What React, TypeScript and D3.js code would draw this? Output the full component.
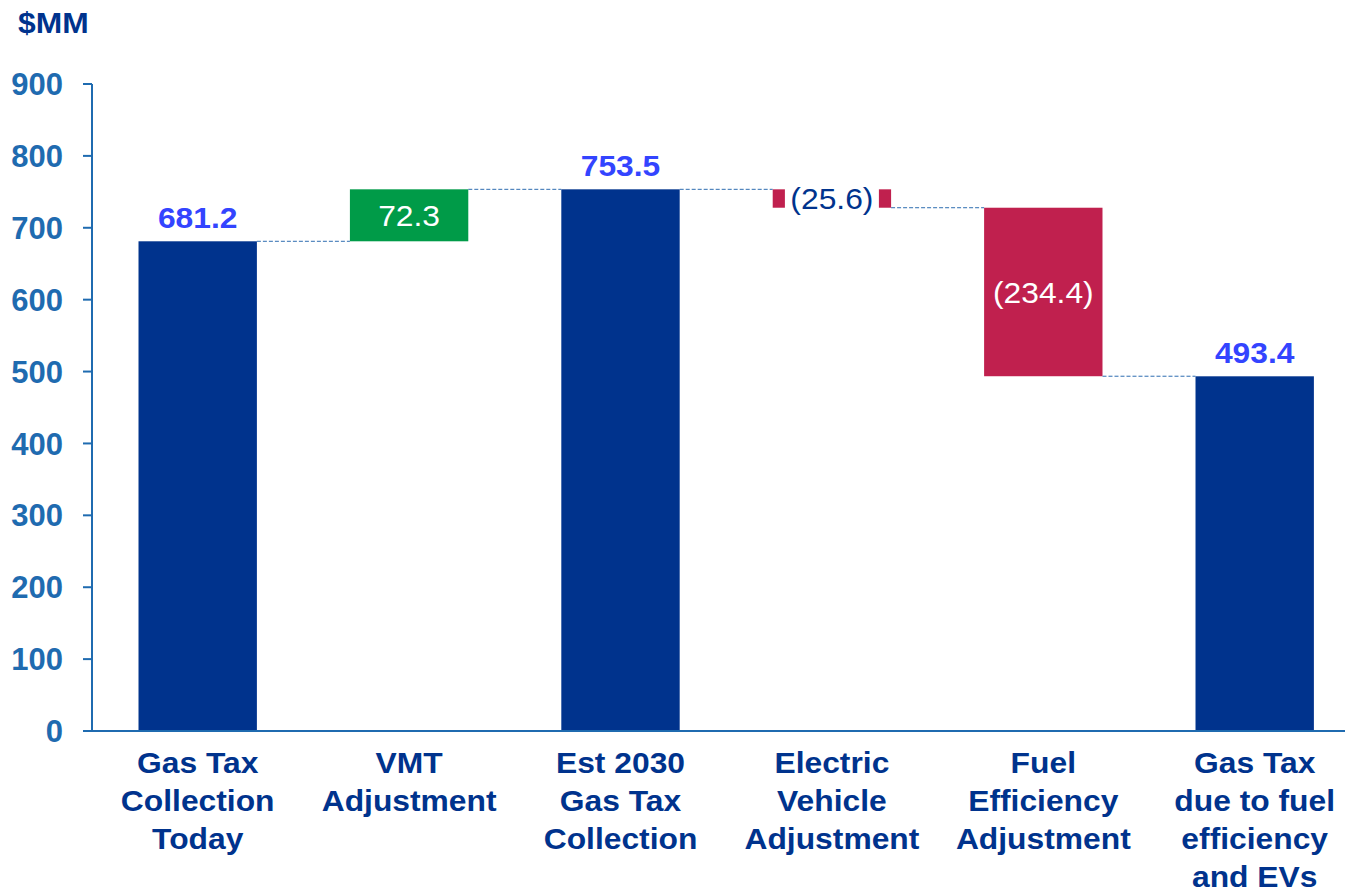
import React, { useEffect, useRef } from 'react';
import * as d3 from 'd3';

const categories = [
  ['Gas Tax', 'Collection', 'Today'],
  ['VMT', 'Adjustment'],
  ['Est 2030', 'Gas Tax', 'Collection'],
  ['Electric', 'Vehicle', 'Adjustment'],
  ['Fuel', 'Efficiency', 'Adjustment'],
  ['Gas Tax', 'due to fuel', 'efficiency', 'and EVs'],
];
const values = [681.2, 72.3, 753.5, -25.6, -234.4, 493.4];
const kinds = ['total', 'delta', 'total', 'delta', 'delta', 'total'];
const labels = ['681.2', '72.3', '753.5', '(25.6)', '(234.4)', '493.4'];
const yTicks = [0, 100, 200, 300, 400, 500, 600, 700, 800, 900];

const W = 1345;
const H = 890;
const font = '"Liberation Sans", Arial, sans-serif';
const navy = '#00338D';
const axisBlue = '#1F6BB0';
const labelBlue = '#3344FF';
const stretch = 1.06; // reference text is a bit wider than plain Arial

export default function App() {
  const ref = useRef<SVGSVGElement>(null);

  useEffect(() => {
    const svg = d3.select(ref.current);
    svg.selectAll('*').remove();

    const x = d3.scaleBand<number>()
      .domain(values.map((_, i) => i))
      .range([92, 92 + 211.4 * 6])
      .paddingInner(0.44)
      .paddingOuter(0.22);
    const y = d3.scaleLinear().domain([0, 900]).range([731, 84]);

    // wide text helper: anchored at (tx, ty), stretched horizontally
    const wideText = (parent, tx, ty, anchor = 'middle') =>
      parent.append('text')
        .attr('transform', `translate(${tx},${ty}) scale(${stretch},1)`)
        .attr('text-anchor', anchor)
        .attr('font-family', font)
        .attr('font-size', 30);

    // running totals for the waterfall
    let run = 0;
    const steps = values.map((v, i) => {
      let lo, hi, end;
      if (kinds[i] === 'total') {
        lo = 0; hi = v; end = v;
      } else {
        end = run + v;
        lo = Math.min(run, end); hi = Math.max(run, end);
      }
      const s = { i, lo, hi, end, v };
      run = end;
      return s;
    });

    // connectors
    const g = svg.append('g');
    steps.slice(0, -1).forEach((s) => {
      g.append('line')
        .attr('x1', x(s.i)! + x.bandwidth())
        .attr('x2', x(s.i + 1)!)
        .attr('y1', y(s.end))
        .attr('y2', y(s.end))
        .attr('stroke', '#2E6DB0')
        .attr('stroke-width', 1)
        .attr('stroke-dasharray', '4,2');
    });

    // bars
    steps.forEach((s) => {
      const color = kinds[s.i] === 'total' ? navy : s.v > 0 ? '#009B48' : '#C0204E';
      g.append('rect')
        .attr('x', x(s.i)!)
        .attr('width', x.bandwidth())
        .attr('y', y(s.hi))
        .attr('height', y(s.lo) - y(s.hi))
        .attr('fill', color);
    });

    // labels
    steps.forEach((s) => {
      const cx = x(s.i)! + x.bandwidth() / 2;
      if (kinds[s.i] === 'total') {
        wideText(g, cx, y(s.hi) - 13)
          .attr('font-weight', 'bold')
          .attr('fill', labelBlue)
          .text(labels[s.i]);
      } else {
        const cy = (y(s.lo) + y(s.hi)) / 2;
        const small = y(s.lo) - y(s.hi) < 40;
        if (small) {
          g.append('rect')
            .attr('x', cx - 47)
            .attr('width', 94)
            .attr('y', cy - 18)
            .attr('height', 36)
            .attr('fill', '#fff');
        }
        wideText(g, cx, cy)
          .attr('dy', '0.36em')
          .attr('fill', small ? navy : '#fff')
          .text(labels[s.i]);
      }
    });

    // y axis
    const ya = svg.append('g').attr('transform', 'translate(92,0)');
    ya.append('line').attr('x1', 0).attr('x2', 0).attr('y1', 84).attr('y2', 731)
      .attr('stroke', axisBlue).attr('stroke-width', 2);
    yTicks.forEach((t) => {
      ya.append('line').attr('x1', -9).attr('x2', 0).attr('y1', y(t)).attr('y2', y(t))
        .attr('stroke', axisBlue).attr('stroke-width', 2);
      ya.append('text')
        .attr('x', -29)
        .attr('y', y(t))
        .attr('dy', '0.36em')
        .attr('text-anchor', 'end')
        .attr('font-family', font)
        .attr('font-weight', 'bold')
        .attr('font-size', 31)
        .attr('fill', axisBlue)
        .text(t);
    });

    // x axis
    svg.append('line').attr('x1', 83).attr('x2', W).attr('y1', 731).attr('y2', 731)
      .attr('stroke', axisBlue).attr('stroke-width', 2);
    categories.forEach((lines, i) => {
      const t = wideText(svg, x(i)! + x.bandwidth() / 2, 773)
        .attr('font-weight', 'bold')
        .attr('fill', navy);
      lines.forEach((l, k) => {
        t.append('tspan')
          .attr('x', 0)
          .attr('y', k * 38)
          .text(l);
      });
    });

    wideText(svg, 18, 33, 'start')
      .attr('font-weight', 'bold')
      .attr('fill', navy)
      .text('$MM');
  }, []);

  return (
    <svg
      ref={ref}
      width={W}
      height={H}
      style={{ position: 'absolute', left: 0, top: 0, background: '#fff' }}
    />
  );
}
